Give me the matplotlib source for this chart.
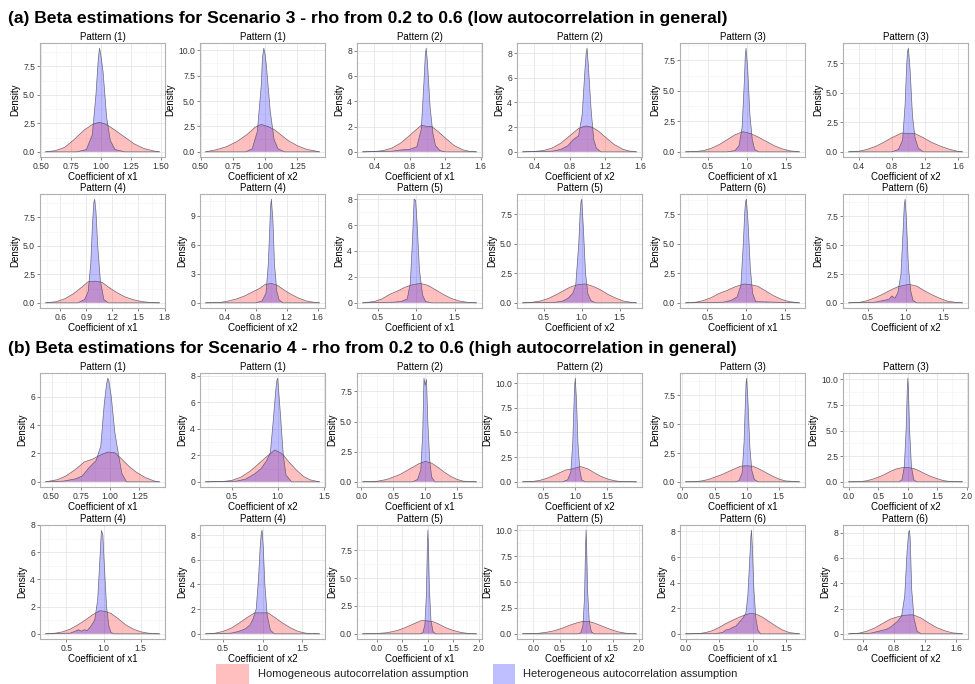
import numpy as np
import matplotlib.pyplot as plt
from matplotlib.patches import Rectangle
from matplotlib.ticker import AutoMinorLocator

plt.rcParams['font.family'] = ['Liberation Sans', 'DejaVu Sans']

# panel order in each block: P1 x1, P1 x2, P2 x1, P2 x2, ... P6 x2
pattern_no = [1, 1, 2, 2, 3, 3, 4, 4, 5, 5, 6, 6]
coef_name = ['x1', 'x2'] * 6

titles = ['(a) Beta estimations for Scenario 3 - rho from 0.2 to 0.6 (low autocorrelation in general)',
          '(b) Beta estimations for Scenario 4 - rho from 0.2 to 0.6 (high autocorrelation in general)']
legend_labels = ['Homogeneous autocorrelation assumption', 'Heterogeneous autocorrelation assumption']

# ---- Scenario 3 (a): homogeneous density (pink)
a_hom_x = [
    [0.54, 0.62, 0.70, 0.78, 0.86, 0.93, 0.99, 1.05, 1.12, 1.20, 1.28, 1.36, 1.44, 1.49],
    [0.54, 0.62, 0.70, 0.78, 0.86, 0.92, 0.97, 1.02, 1.07, 1.12, 1.18, 1.25, 1.32, 1.42],
    [0.27, 0.40, 0.50, 0.60, 0.70, 0.80, 0.88, 0.93, 1.00, 1.05, 1.12, 1.20, 1.30, 1.40, 1.48, 1.55],
    [0.27, 0.40, 0.50, 0.60, 0.70, 0.80, 0.90, 0.98, 1.05, 1.12, 1.20, 1.30, 1.40, 1.48, 1.55],
    [0.22, 0.35, 0.45, 0.55, 0.65, 0.75, 0.85, 0.95, 1.05, 1.15, 1.25, 1.35, 1.45, 1.55, 1.67],
    [0.28, 0.40, 0.50, 0.60, 0.70, 0.80, 0.92, 1.00, 1.08, 1.18, 1.28, 1.38, 1.48, 1.58, 1.65],
    [0.43, 0.55, 0.65, 0.75, 0.85, 0.92, 1.00, 1.08, 1.15, 1.25, 1.35, 1.45, 1.55, 1.65, 1.74],
    [0.15, 0.35, 0.45, 0.55, 0.65, 0.75, 0.85, 0.92, 1.00, 1.08, 1.15, 1.25, 1.35, 1.45, 1.55, 1.62],
    [0.30, 0.45, 0.55, 0.65, 0.75, 0.85, 0.95, 1.05, 1.15, 1.25, 1.35, 1.45, 1.55, 1.65, 1.78],
    [0.22, 0.35, 0.45, 0.55, 0.65, 0.75, 0.85, 0.95, 1.05, 1.15, 1.25, 1.35, 1.45, 1.55, 1.65, 1.72],
    [0.22, 0.35, 0.45, 0.55, 0.65, 0.75, 0.85, 0.97, 1.05, 1.15, 1.25, 1.35, 1.45, 1.55, 1.68],
    [0.25, 0.40, 0.50, 0.60, 0.70, 0.80, 0.90, 1.00, 1.05, 1.15, 1.25, 1.35, 1.45, 1.55, 1.65, 1.75],
]
a_hom_y = [
    [0, 0.1, 0.4, 1.1, 1.9, 2.4, 2.6, 2.4, 1.9, 1.3, 0.7, 0.3, 0.08, 0],
    [0, 0.2, 0.5, 1.0, 1.7, 2.4, 2.7, 2.5, 2.2, 1.7, 1.1, 0.6, 0.25, 0],
    [0, 0.02, 0.1, 0.3, 0.7, 1.3, 1.8, 2.1, 2.0, 2.0, 1.6, 1.1, 0.5, 0.15, 0.03, 0],
    [0, 0.03, 0.1, 0.3, 0.7, 1.3, 1.9, 2.1, 2.0, 1.7, 1.2, 0.6, 0.2, 0.05, 0],
    [0, 0.03, 0.1, 0.3, 0.6, 1.0, 1.4, 1.65, 1.5, 1.2, 0.85, 0.5, 0.25, 0.08, 0],
    [0, 0.05, 0.2, 0.45, 0.8, 1.2, 1.6, 1.55, 1.55, 1.2, 0.8, 0.5, 0.25, 0.06, 0],
    [0, 0.1, 0.35, 0.8, 1.4, 1.85, 1.9, 1.8, 1.4, 0.9, 0.5, 0.25, 0.1, 0.02, 0],
    [0, 0.05, 0.2, 0.4, 0.7, 1.1, 1.5, 1.9, 2.0, 1.8, 1.4, 0.9, 0.5, 0.2, 0.05, 0],
    [0, 0.1, 0.3, 0.65, 0.9, 1.2, 1.4, 1.5, 1.35, 1.0, 0.65, 0.35, 0.15, 0.05, 0],
    [0, 0.05, 0.15, 0.35, 0.65, 1.0, 1.35, 1.55, 1.6, 1.4, 1.1, 0.7, 0.4, 0.15, 0.04, 0],
    [0, 0.05, 0.2, 0.45, 0.8, 1.05, 1.35, 1.6, 1.55, 1.4, 1.0, 0.6, 0.3, 0.1, 0],
    [0, 0.05, 0.2, 0.45, 0.75, 1.1, 1.4, 1.55, 1.6, 1.45, 1.05, 0.7, 0.4, 0.15, 0.05, 0],
]
# ---- Scenario 3 (a): heterogeneous density (blue)
a_het_x = [
    [0.54, 0.80, 0.88, 0.93, 0.96, 0.98, 0.99, 1.00, 1.02, 1.05, 1.08, 1.12, 1.20, 1.49],
    [0.54, 0.85, 0.90, 0.94, 0.97, 0.98, 0.99, 1.00, 1.01, 1.04, 1.07, 1.10, 1.15, 1.42],
    [0.27, 0.60, 0.70, 0.80, 0.88, 0.93, 0.96, 0.975, 0.985, 1.00, 1.03, 1.06, 1.09, 1.14, 1.20, 1.55],
    [0.27, 0.60, 0.70, 0.78, 0.84, 0.90, 0.94, 0.97, 0.985, 0.995, 1.01, 1.04, 1.07, 1.10, 1.15, 1.55],
    [0.22, 0.75, 0.85, 0.90, 0.94, 0.97, 0.98, 0.99, 1.01, 1.04, 1.07, 1.10, 1.15, 1.67],
    [0.28, 0.80, 0.88, 0.93, 0.96, 0.98, 0.99, 1.00, 1.02, 1.05, 1.08, 1.12, 1.18, 1.65],
    [0.43, 0.80, 0.88, 0.92, 0.95, 0.97, 0.985, 0.995, 1.01, 1.03, 1.06, 1.10, 1.15, 1.74],
    [0.15, 0.80, 0.88, 0.93, 0.96, 0.98, 0.99, 1.00, 1.02, 1.04, 1.07, 1.10, 1.15, 1.62],
    [0.30, 0.70, 0.80, 0.88, 0.92, 0.95, 0.97, 0.99, 1.01, 1.04, 1.08, 1.12, 1.20, 1.78],
    [0.22, 0.65, 0.75, 0.82, 0.88, 0.92, 0.96, 0.98, 0.99, 1.00, 1.02, 1.05, 1.08, 1.12, 1.18, 1.72],
    [0.22, 0.70, 0.80, 0.88, 0.93, 0.96, 0.98, 0.99, 1.00, 1.02, 1.05, 1.08, 1.12, 1.68],
    [0.25, 0.60, 0.70, 0.78, 0.82, 0.86, 0.90, 0.94, 0.97, 0.985, 0.995, 1.01, 1.04, 1.07, 1.10, 1.15, 1.75],
]
a_het_y = [
    [0, 0, 0.2, 1.5, 5.0, 8.2, 9.1, 8.6, 7.0, 3.0, 1.0, 0.2, 0, 0],
    [0, 0, 0.3, 2.0, 6.5, 9.3, 10.2, 9.6, 8.5, 4.0, 1.2, 0.3, 0, 0],
    [0, 0.05, 0.15, 0.2, 0.4, 1.8, 5.5, 7.6, 8.2, 7.0, 3.5, 1.5, 0.5, 0.1, 0, 0],
    [0, 0.05, 0.2, 0.5, 1.0, 1.3, 3.0, 6.5, 8.0, 8.4, 7.0, 3.5, 1.0, 0.3, 0, 0],
    [0, 0, 0.1, 0.5, 2.0, 6.0, 7.8, 8.5, 7.0, 3.0, 1.0, 0.2, 0, 0],
    [0, 0, 0.2, 1.0, 4.0, 7.5, 8.5, 8.8, 7.0, 3.0, 1.2, 0.3, 0, 0],
    [0, 0, 0.3, 1.0, 3.5, 7.0, 8.8, 9.1, 8.0, 5.0, 2.0, 0.3, 0, 0],
    [0, 0, 0.2, 1.0, 4.0, 8.0, 10.0, 10.7, 8.5, 4.0, 1.2, 0.3, 0, 0],
    [0, 0.05, 0.1, 0.3, 1.5, 5.0, 8.0, 7.9, 6.0, 2.5, 0.6, 0.1, 0, 0],
    [0, 0.05, 0.15, 0.4, 0.8, 1.5, 5.0, 7.8, 8.6, 8.8, 6.5, 2.5, 0.8, 0.2, 0, 0],
    [0, 0.05, 0.2, 0.5, 1.5, 5.0, 7.8, 8.6, 8.8, 7.0, 3.0, 0.8, 0.1, 0],
    [0, 0.05, 0.2, 0.3, 0.6, 0.4, 0.9, 2.5, 6.5, 8.6, 9.0, 7.5, 3.0, 1.0, 0.2, 0, 0],
]
a_xticks = [
    [0.5, 0.75, 1.0, 1.25, 1.5], [0.5, 0.75, 1.0, 1.25], [0.4, 0.8, 1.2, 1.6], [0.4, 0.8, 1.2, 1.6],
    [0.5, 1.0, 1.5], [0.4, 0.8, 1.2, 1.6], [0.6, 0.9, 1.2, 1.5, 1.8], [0.4, 0.8, 1.2, 1.6],
    [0.5, 1.0, 1.5], [0.5, 1.0, 1.5], [0.5, 1.0, 1.5], [0.5, 1.0, 1.5],
]
a_yticks = [
    [0, 2.5, 5, 7.5], [0, 2.5, 5, 7.5, 10], [0, 2, 4, 6, 8], [0, 2, 4, 6, 8],
    [0, 2.5, 5, 7.5], [0, 2.5, 5, 7.5], [0, 2.5, 5, 7.5], [0, 3, 6, 9],
    [0, 2, 4, 6, 8], [0, 2.5, 5, 7.5], [0, 2.5, 5, 7.5], [0, 2.5, 5, 7.5],
]

# ---- Scenario 4 (b): homogeneous density (pink)
b_hom_x = [
    [0.45, 0.55, 0.62, 0.70, 0.78, 0.85, 0.92, 0.98, 1.04, 1.10, 1.16, 1.22, 1.30, 1.38, 1.42],
    [0.22, 0.40, 0.50, 0.60, 0.70, 0.80, 0.88, 0.97, 1.05, 1.12, 1.20, 1.28, 1.35, 1.45],
    [0.02, 0.25, 0.40, 0.50, 0.60, 0.70, 0.80, 0.90, 1.00, 1.10, 1.20, 1.30, 1.40, 1.50, 1.60, 1.80],
    [0.18, 0.35, 0.45, 0.55, 0.65, 0.75, 0.85, 0.95, 1.08, 1.20, 1.30, 1.40, 1.50, 1.60, 1.70, 1.95],
    [0.05, 0.20, 0.30, 0.40, 0.50, 0.60, 0.70, 0.80, 0.90, 1.00, 1.10, 1.20, 1.30, 1.40, 1.50, 1.60, 1.82],
    [0.0, 0.20, 0.30, 0.40, 0.50, 0.60, 0.70, 0.80, 0.92, 1.00, 1.10, 1.20, 1.30, 1.40, 1.50, 1.60, 1.70, 1.92],
    [0.22, 0.35, 0.45, 0.55, 0.65, 0.75, 0.85, 0.95, 1.02, 1.10, 1.20, 1.30, 1.40, 1.50, 1.60, 1.75],
    [0.28, 0.40, 0.50, 0.60, 0.70, 0.80, 0.90, 1.00, 1.07, 1.15, 1.25, 1.35, 1.45, 1.55, 1.72],
    [-0.28, 0.0, 0.20, 0.40, 0.55, 0.70, 0.80, 0.88, 1.00, 1.10, 1.20, 1.35, 1.50, 1.65, 1.80, 1.95],
    [-0.20, 0.10, 0.25, 0.40, 0.55, 0.70, 0.85, 0.95, 1.05, 1.15, 1.30, 1.45, 1.60, 1.75, 1.95],
    [0.0, 0.20, 0.30, 0.40, 0.50, 0.60, 0.70, 0.80, 0.90, 0.97, 1.05, 1.15, 1.25, 1.35, 1.45, 1.55, 1.70],
    [0.22, 0.35, 0.45, 0.55, 0.65, 0.75, 0.85, 0.92, 1.00, 1.05, 1.15, 1.25, 1.35, 1.45, 1.55, 1.68],
]
b_hom_y = [
    [0, 0.15, 0.4, 0.85, 1.4, 1.6, 1.9, 2.1, 2.05, 1.6, 1.1, 0.7, 0.3, 0.05, 0],
    [0, 0.02, 0.1, 0.35, 0.8, 1.4, 1.9, 2.4, 2.1, 1.5, 0.9, 0.4, 0.15, 0],
    [0, 0.05, 0.2, 0.4, 0.6, 0.9, 1.2, 1.5, 1.7, 1.55, 1.2, 0.8, 0.45, 0.2, 0.05, 0],
    [0, 0.05, 0.15, 0.35, 0.6, 0.9, 1.2, 1.3, 1.55, 1.3, 0.9, 0.55, 0.3, 0.12, 0.03, 0],
    [0, 0.02, 0.08, 0.2, 0.4, 0.6, 0.85, 1.1, 1.35, 1.4, 1.35, 1.1, 0.8, 0.5, 0.25, 0.08, 0],
    [0, 0.02, 0.1, 0.25, 0.45, 0.7, 1.0, 1.25, 1.4, 1.4, 1.3, 1.05, 0.75, 0.5, 0.3, 0.12, 0.04, 0],
    [0, 0.05, 0.15, 0.35, 0.65, 1.0, 1.4, 1.7, 1.65, 1.5, 1.1, 0.65, 0.35, 0.15, 0.05, 0],
    [0, 0.05, 0.2, 0.45, 0.85, 1.3, 1.7, 1.7, 1.7, 1.35, 0.9, 0.5, 0.2, 0.05, 0],
    [0, 0.03, 0.1, 0.3, 0.55, 0.85, 1.05, 1.2, 1.15, 1.1, 0.9, 0.55, 0.3, 0.12, 0.03, 0],
    [0, 0.05, 0.15, 0.3, 0.55, 0.85, 1.1, 1.2, 1.2, 1.05, 0.75, 0.45, 0.2, 0.06, 0],
    [0, 0.02, 0.1, 0.25, 0.5, 0.8, 1.05, 1.3, 1.5, 1.6, 1.55, 1.3, 0.95, 0.6, 0.3, 0.1, 0],
    [0, 0.05, 0.2, 0.45, 0.8, 1.15, 1.35, 1.45, 1.5, 1.5, 1.25, 0.85, 0.5, 0.25, 0.08, 0],
]
# ---- Scenario 4 (b): heterogeneous density (blue)
b_het_x = [
    [0.45, 0.60, 0.70, 0.76, 0.82, 0.88, 0.92, 0.95, 0.97, 0.98, 0.99, 1.01, 1.04, 1.07, 1.10, 1.14, 1.42],
    [0.22, 0.55, 0.65, 0.75, 0.82, 0.88, 0.92, 0.95, 0.98, 0.99, 1.00, 1.03, 1.06, 1.09, 1.15, 1.45],
    [0.02, 0.80, 0.88, 0.93, 0.96, 0.98, 1.00, 1.02, 1.04, 1.07, 1.10, 1.15, 1.80],
    [0.18, 0.80, 0.88, 0.93, 0.96, 0.98, 0.99, 1.00, 1.02, 1.04, 1.07, 1.10, 1.15, 1.95],
    [0.05, 0.82, 0.88, 0.93, 0.96, 0.98, 0.99, 1.00, 1.02, 1.05, 1.08, 1.12, 1.18, 1.82],
    [0.0, 0.85, 0.90, 0.94, 0.97, 0.99, 1.00, 1.01, 1.03, 1.06, 1.10, 1.15, 1.92],
    [0.22, 0.55, 0.62, 0.66, 0.70, 0.74, 0.78, 0.82, 0.88, 0.92, 0.95, 0.97, 0.99, 1.01, 1.04, 1.07, 1.10, 1.14, 1.75],
    [0.28, 0.60, 0.70, 0.78, 0.84, 0.88, 0.92, 0.95, 0.97, 0.985, 0.995, 1.01, 1.03, 1.06, 1.10, 1.15, 1.72],
    [-0.28, 0.85, 0.90, 0.94, 0.97, 0.99, 1.00, 1.01, 1.03, 1.06, 1.10, 1.15, 1.95],
    [-0.20, 0.85, 0.90, 0.94, 0.97, 0.99, 1.00, 1.01, 1.03, 1.06, 1.10, 1.15, 1.95],
    [0.0, 0.45, 0.55, 0.60, 0.65, 0.70, 0.75, 0.80, 0.85, 0.90, 0.93, 0.96, 0.975, 0.985, 1.00, 1.02, 1.05, 1.08, 1.12, 1.70],
    [0.22, 0.50, 0.60, 0.70, 0.75, 0.80, 0.85, 0.90, 0.94, 0.97, 0.99, 1.00, 1.01, 1.03, 1.06, 1.10, 1.15, 1.68],
]
b_het_y = [
    [0, 0.05, 0.2, 0.4, 1.0, 1.5, 2.5, 5.5, 6.9, 7.3, 7.1, 6.0, 3.5, 2.0, 0.6, 0, 0],
    [0, 0.05, 0.2, 0.6, 1.0, 1.6, 2.2, 4.5, 7.0, 7.6, 7.8, 5.0, 2.0, 0.5, 0, 0],
    [0, 0, 0.2, 1.0, 4.0, 8.6, 8.0, 8.5, 5.0, 1.8, 0.4, 0, 0],
    [0, 0, 0.2, 1.0, 4.0, 8.0, 9.8, 10.5, 8.0, 4.0, 1.2, 0.2, 0, 0],
    [0, 0, 0.1, 0.8, 3.5, 7.0, 8.5, 9.0, 7.0, 3.0, 1.0, 0.2, 0, 0],
    [0, 0, 0.2, 1.5, 5.0, 9.0, 10.1, 9.0, 5.0, 1.5, 0.2, 0, 0],
    [0, 0.05, 0.2, 0.3, 0.2, 0.3, 0.25, 0.5, 1.0, 2.5, 5.5, 7.6, 7.3, 5.0, 2.0, 0.6, 0.1, 0, 0],
    [0, 0.05, 0.2, 0.4, 0.7, 1.2, 2.0, 4.5, 7.0, 8.2, 8.4, 7.0, 4.0, 1.5, 0.3, 0, 0],
    [0, 0, 0.1, 0.8, 3.5, 8.0, 9.3, 8.0, 4.0, 1.2, 0.2, 0, 0],
    [0, 0, 0.1, 0.8, 3.5, 8.5, 10.0, 8.5, 4.0, 1.2, 0.2, 0, 0],
    [0, 0.02, 0.1, 0.3, 0.35, 0.5, 0.6, 0.9, 1.2, 1.6, 3.0, 6.0, 7.6, 8.1, 6.5, 3.5, 1.2, 0.3, 0, 0],
    [0, 0.05, 0.2, 0.35, 0.5, 0.75, 1.0, 1.4, 3.0, 6.5, 8.0, 8.2, 7.6, 3.5, 1.2, 0.2, 0, 0],
]
b_xticks = [
    [0.5, 0.75, 1.0, 1.25], [0.5, 1.0, 1.5], [0.0, 0.5, 1.0, 1.5], [0.5, 1.0, 1.5],
    [0.0, 0.5, 1.0, 1.5], [0.0, 0.5, 1.0, 1.5, 2.0], [0.5, 1.0, 1.5], [0.5, 1.0, 1.5],
    [0.0, 0.5, 1.0, 1.5, 2.0], [0.0, 0.5, 1.0, 1.5, 2.0], [0.0, 0.5, 1.0, 1.5], [0.4, 0.8, 1.2, 1.6],
]
b_yticks = [
    [0, 2, 4, 6], [0, 2, 4, 6, 8], [0, 2.5, 5, 7.5], [0, 2.5, 5, 7.5, 10],
    [0, 2.5, 5, 7.5], [0, 2.5, 5, 7.5, 10], [0, 2, 4, 6, 8], [0, 2, 4, 6, 8],
    [0, 2.5, 5, 7.5], [0, 2.5, 5, 7.5, 10], [0, 2, 4, 6, 8], [0, 2, 4, 6, 8],
]

# layout in pixels (figure is 975 x 684)
W, H = 975, 684
col_left = [40, 200, 357, 517, 680, 843]
ax_w = 125
row_top = [43, 194, 373, 525]
ax_h = 114

hom_col = (1.0, 0.0, 0.0, 0.25)
het_col = (0.0, 0.0, 1.0, 0.25)
edge = '#4a4a5a'


def fmt_tick(v, decimals):
    return '{:.{d}f}'.format(v, d=decimals)


def draw_panel(ax, hx, hy, bx, by, xt, yt, pat, coef):
    ax.fill_between(hx, hy, 0, facecolor=hom_col, edgecolor='none')
    ax.plot(hx, hy, color=edge, lw=0.5, alpha=0.8)
    ax.fill_between(bx, by, 0, facecolor=het_col, edgecolor='none')
    ax.plot(bx, by, color=edge, lw=0.5, alpha=0.8)
    lo, hi = min(hx), max(hx)
    pad = 0.05 * (hi - lo)
    ax.set_xlim(lo - pad, hi + pad)
    ymax = max(max(by), max(hy))
    ax.set_ylim(-0.05 * ymax, 1.05 * ymax)
    xd = 2 if any(abs(round(v * 10) - v * 10) > 1e-6 for v in xt) else 1
    yd = 0 if all(float(v).is_integer() for v in yt) else 1
    ax.set_xticks(xt)
    ax.set_xticklabels([fmt_tick(v, xd) for v in xt])
    ax.set_yticks(yt)
    ax.set_yticklabels([fmt_tick(v, yd) for v in yt])
    ax.xaxis.set_minor_locator(AutoMinorLocator(2))
    ax.yaxis.set_minor_locator(AutoMinorLocator(2))
    ax.grid(which='major', color='#e6e6e6', lw=0.6)
    ax.grid(which='minor', color='#f2f2f2', lw=0.4)
    ax.set_axisbelow(True)
    ax.tick_params(which='major', length=2, width=0.5, color='#555555',
                   labelsize=6.2, labelcolor='#333333', pad=1.5)
    ax.tick_params(which='minor', length=0)
    for s in ax.spines.values():
        s.set_color('#b0b0b0')
        s.set_linewidth(0.8)
    ax.set_title('Pattern ({})'.format(pat), fontsize=7, pad=2.5)
    ax.set_xlabel('Coefficient of {}'.format(coef), fontsize=7, labelpad=1)
    ax.set_ylabel('Density', fontsize=7, labelpad=2)


fig = plt.figure(figsize=(W / 100, H / 100), dpi=100)

blocks = [(a_hom_x, a_hom_y, a_het_x, a_het_y, a_xticks, a_yticks),
          (b_hom_x, b_hom_y, b_het_x, b_het_y, b_xticks, b_yticks)]
for bi, (hx, hy, bx, by, xt, yt) in enumerate(blocks):
    for i in range(12):
        r = 2 * bi + i // 6
        c = i % 6
        rect = [col_left[c] / W, 1 - (row_top[r] + ax_h) / H, ax_w / W, ax_h / H]
        ax = fig.add_axes(rect)
        draw_panel(ax, hx[i], hy[i], bx[i], by[i], xt[i], yt[i], pattern_no[i], coef_name[i])

fig.text(8 / W, 1 - 18 / H, titles[0], fontsize=12.6, fontweight='bold', va='center', ha='left')
fig.text(8 / W, 1 - 349 / H, titles[1], fontsize=12.6, fontweight='bold', va='center', ha='left')

# legend at the bottom
fig.patches.append(Rectangle((216 / W, 1 - 684 / H), 33 / W, 20 / H, transform=fig.transFigure,
                             facecolor=hom_col, edgecolor='none'))
fig.text(258 / W, 1 - 674 / H, legend_labels[0], fontsize=8, va='center', ha='left', color='#222222')
fig.patches.append(Rectangle((493 / W, 1 - 684 / H), 22 / W, 20 / H, transform=fig.transFigure,
                             facecolor=het_col, edgecolor='none'))
fig.text(523 / W, 1 - 674 / H, legend_labels[1], fontsize=8, va='center', ha='left', color='#222222')

fig.savefig('out.png', dpi=100)
